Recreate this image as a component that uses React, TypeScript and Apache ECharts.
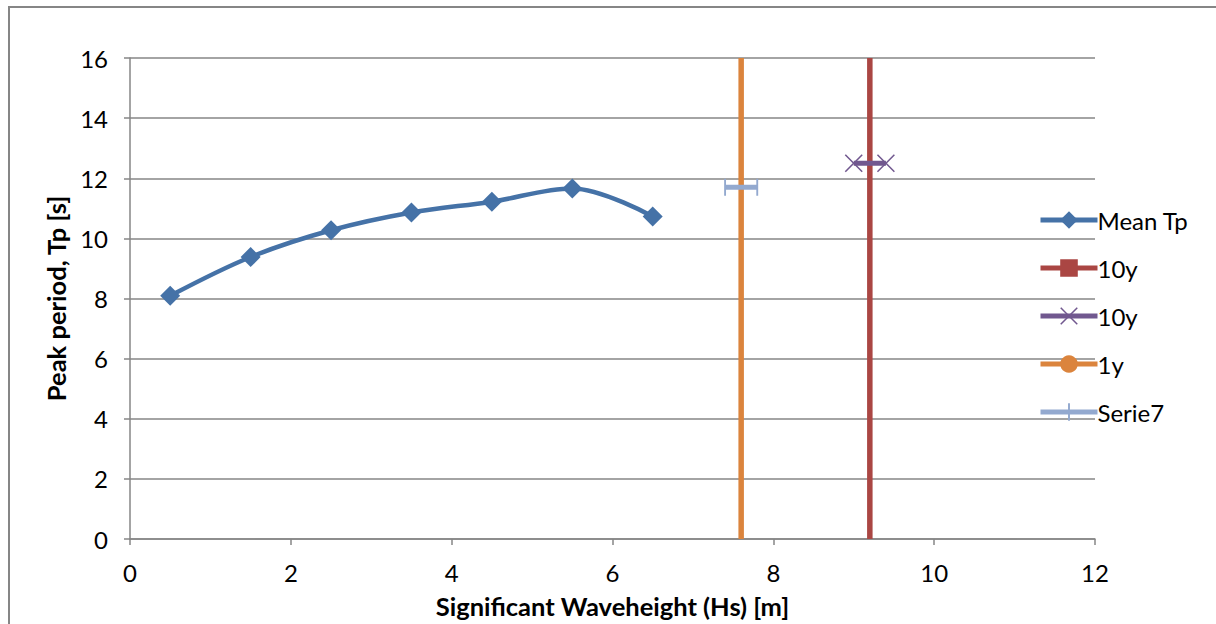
import React, { useEffect, useRef } from "react";
import * as echarts from "echarts";

const meanTpHs = [0.5, 1.5, 2.5, 3.5, 4.5, 5.5, 6.5];
const meanTpValues = [8.09, 9.38, 10.27, 10.86, 11.22, 11.66, 10.73];
const tenYearHs = [9.2, 9.2];
const tenYearTp = [0, 16];
const tenYearPointHs = [9.0, 9.4];
const tenYearPointTp = [12.5, 12.5];
const oneYearHs = [7.6, 7.6];
const oneYearTp = [0, 16];
const serie7Hs = [7.4, 7.8];
const serie7Tp = [11.7, 11.7];
const seriesNames = ["Mean Tp", "10y", "10y#2", "1y", "Serie7"];
const xAxisTitle = "Significant Waveheight (Hs) [m]";
const yAxisTitle = "Peak period, Tp [s]";

const zip = (xs: number[], ys: number[]) => xs.map((x, i) => [x, ys[i]]);

const FONT = "Lato, 'Open Sans', sans-serif";
const GRAY = "#868686";
const X_SYMBOL =
  "path://M0,0.6 L0.6,0 L5,4.4 L9.4,0 L10,0.6 L5.6,5 L10,9.4 L9.4,10 L5,5.6 L0.6,10 L0,9.4 L4.4,5 Z";
const BAR_SYMBOL =
  "path://M4.45,0 L5.55,0 L5.55,10 L4.45,10 Z M0,0 L0.01,0 L0,0.01 Z M10,10 L9.99,10 L10,9.99 Z";

export default function App() {
  const ref = useRef<HTMLDivElement>(null);
  useEffect(() => {
    if (!ref.current) return;
    const chart = echarts.init(ref.current, null, { renderer: "svg" });
    chart.setOption({
      animation: false,
      backgroundColor: "#ffffff",
      textStyle: { fontFamily: FONT },
      graphic: [
        {
          type: "rect",
          shape: { x: 9, y: 7, width: 1300, height: 700 },
          style: { fill: "none", stroke: GRAY, lineWidth: 2 },
          silent: true,
        },
      ],
      grid: { left: 130, right: 121, top: 58, bottom: 84 },
      legend: {
        orient: "vertical",
        left: 1033,
        top: 203,
        itemWidth: 57,
        itemHeight: 22,
        itemGap: 24,
        data: seriesNames,
        formatter: (n: string) => n.replace("#2", ""),
        lineStyle: { width: 5 },
        textStyle: { fontFamily: FONT, fontSize: 24, color: "#000", lineHeight: 22, padding: [0, 0, 0, -5] },
      },
      xAxis: {
        type: "value",
        min: 0,
        max: 12,
        interval: 2,
        name: xAxisTitle,
        nameLocation: "middle",
        nameGap: 54,
        nameTextStyle: { fontFamily: FONT, fontSize: 25.5, fontWeight: "bold", color: "#000" },
        axisLine: { show: true, lineStyle: { color: GRAY, width: 1.5 } },
        axisTick: { show: true, length: 6, lineStyle: { color: GRAY, width: 1.5 } },
        axisLabel: { margin: 21, fontFamily: FONT, fontSize: 24, color: "#000" },
        splitLine: { show: false },
      },
      yAxis: {
        type: "value",
        min: 0,
        max: 16,
        interval: 2,
        name: yAxisTitle,
        nameLocation: "middle",
        nameGap: 57,
        nameTextStyle: { fontFamily: FONT, fontSize: 25.5, fontWeight: "bold", color: "#000" },
        axisLine: { show: true, lineStyle: { color: GRAY, width: 1.5 } },
        axisTick: { show: true, length: 6, lineStyle: { color: GRAY, width: 1.5 } },
        axisLabel: { margin: 22, fontFamily: FONT, fontSize: 24, color: "#000" },
        splitLine: { show: true, lineStyle: { color: GRAY, width: 1.5 } },
      },
      series: [
        {
          name: seriesNames[0],
          type: "line",
          data: zip(meanTpHs, meanTpValues),
          smooth: 0.35,
          symbol: "diamond",
          symbolSize: 20,
          color: "#4572A7",
          lineStyle: { width: 4.5, color: "#4572A7" },
          itemStyle: { color: "#4572A7" },
        },
        {
          name: seriesNames[1],
          type: "line",
          data: zip(tenYearHs, tenYearTp),
          symbol: "rect",
          showSymbol: false,
          color: "#AA4643",
          lineStyle: { width: 5.5, color: "#AA4643" },
          itemStyle: { color: "#AA4643" },
        },
        {
          name: seriesNames[2],
          type: "line",
          data: zip(tenYearPointHs, tenYearPointTp),
          symbol: X_SYMBOL,
          symbolSize: 18,
          color: "#71588F",
          lineStyle: { width: 5, color: "#71588F" },
          itemStyle: { color: "#71588F" },
        },
        {
          name: seriesNames[3],
          type: "line",
          data: zip(oneYearHs, oneYearTp),
          symbol: "circle",
          showSymbol: false,
          color: "#DB843D",
          lineStyle: { width: 5.5, color: "#DB843D" },
          itemStyle: { color: "#DB843D" },
        },
        {
          name: seriesNames[4],
          type: "line",
          data: zip(serie7Hs, serie7Tp),
          symbol: BAR_SYMBOL,
          symbolSize: 17,
          color: "#93A9CF",
          lineStyle: { width: 5, color: "#93A9CF" },
          itemStyle: { color: "#93A9CF" },
        },
      ],
    });
    return () => chart.dispose();
  }, []);
  return (
    <div
      ref={ref}
      style={{ position: "fixed", left: 0, top: 0, width: 1216, height: 624 }}
    />
  );
}
